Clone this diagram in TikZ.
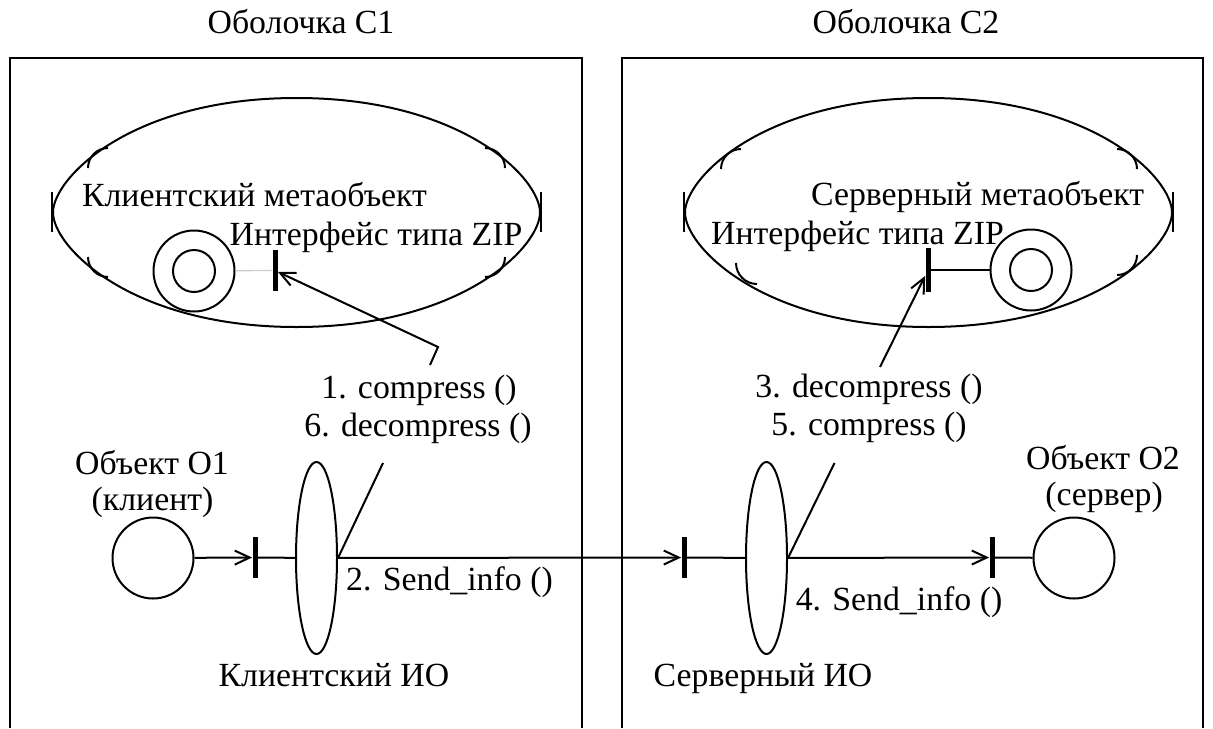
\documentclass[tikz,border=0pt]{standalone}
\usepackage{fontspec}
\setmainfont{Liberation Serif}
\usetikzlibrary{shapes.geometric,arrows.meta}
\begin{document}
\begin{tikzpicture}[x=0.5pt,y=-0.5pt,
  every node/.style={font=\fontsize{16.9}{19}\selectfont},
  lbl/.style={anchor=base, inner sep=0},
  ln/.style={line width=1pt},
  bar/.style={rectangle, fill=black, draw=none, minimum width=2.5pt, minimum height=20.5pt, inner sep=0},
  obj/.style={circle, draw, line width=1pt, minimum size=40.5pt, inner sep=0},
  io/.style={ellipse, draw, line width=1pt, minimum width=20.5pt, minimum height=96pt, inner sep=0},
  msg/.style={-{Straight Barb[length=7.5pt,width=7pt]}, line width=1pt},
  metapic/.pic={\draw[line width=1pt] (-243.5,0) .. controls (-243.5,-34.35) and (-165.6,-114.5) .. (0,-114.5)
      .. controls (165.6,-114.5) and (243.5,-34.35) .. (243.5,0)
      .. controls (243.5,34.35) and (165.6,114.5) .. (0,114.5)
      .. controls (-165.6,114.5) and (-243.5,34.35) .. cycle;},
]
\useasboundingbox (0,0) rectangle (1213,728);

% titles
\node[lbl] (t1) at (301,33) {Оболочка С1};
\node[lbl] (t2) at (906,33) {Оболочка С2};

% shells
\draw[ln] (10,728) -- (10,58) -- (582,58) -- (582,728);
\draw[ln] (622,728) -- (622,58) -- (1203,58) -- (1203,728);

% metaobjects
\pic at (296.5,212.5) {metapic};
\pic at (928.5,212.5) {metapic};
% cloud ticks, left metaobject
\draw[ln] (108,148) arc[start angle=270, end angle=180, radius=20];
\draw[ln] (88,257) arc[start angle=180, end angle=90, radius=20];
\draw[ln] (485,148) arc[start angle=270, end angle=360, radius=20];
\draw[ln] (505,257) arc[start angle=0, end angle=90, radius=20];
\draw[ln] (52,192) -- (52,232);
\draw[ln] (541,192) -- (541,232);
% cloud ticks, right metaobject
\draw[ln] (741,149) arc[start angle=270, end angle=180, radius=20];
\draw[ln] (736,263) arc[start angle=180, end angle=90, radius=21];
\draw[ln] (1117,149) arc[start angle=270, end angle=360, radius=20];
\draw[ln] (1137,255) arc[start angle=0, end angle=90, radius=20];
\draw[ln] (684,192) -- (684,232);
\draw[ln] (1173,192) -- (1173,232);

\node[lbl] (lmt) at (254.5,206) {Клиентский метаобъект};
\node[lbl] (lit) at (376,245) {Интерфейс типа ZIP};
\node[lbl] (rmt) at (977.5,205) {Серверный метаобъект};
\node[lbl] (rit) at (857.5,244) {Интерфейс типа ZIP};

% left interface
\node[obj] (li) at (194,271) {};
\node[circle, draw, line width=1pt, minimum size=21pt, inner sep=0] (lii) at (194,271) {};
\node[bar] (lbar) at (275,270.5) {};
\draw[gray!40, line width=0.6pt] (li) -- (lbar);
% right interface
\node[obj] (ri) at (1031,270) {};
\node[circle, draw, line width=1pt, minimum size=21pt, inner sep=0] (rii) at (1031,270) {};
\node[bar, minimum height=22pt] (rbar) at (928,270) {};
\draw[ln] (rbar) -- (ri);

% message arrows to interfaces
\coordinate (c1a) at (430,365);
\coordinate (c1b) at (438,347);
\draw[msg] (c1a) -- (c1b) -- (lbar);
\coordinate (c3a) at (880,367);
\draw[msg] (c3a) -- (rbar);

\node[lbl] (m1) at (419,398) {1. compress ()};
\node[lbl] (m6) at (418,436) {6. decompress ()};
\node[lbl] (m3) at (869,397) {3. decompress ()};
\node[lbl] (m5) at (869,435) {5. compress ()};

% objects
\node[obj] (o1) at (153,558) {};
\node[lbl] (o1a) at (152,474) {Объект O1};
\node[lbl] (o1b) at (152.5,510) {(клиент)};
\node[obj] (o2) at (1074,558) {};
\node[lbl] (o2a) at (1103,469) {Объект O2};
\node[lbl] (o2b) at (1104,505) {(сервер)};

\node[bar] (b1) at (255,557.5) {};
\node[io] (cio) at (316.5,558) {};
\node[bar] (sb1) at (684,557.5) {};
\node[io] (sio) at (766.5,558) {};
\node[bar] (sb2) at (992,557.5) {};

\draw[msg] (o1) -- (b1);
\draw[ln] (b1) -- (cio);
\draw[msg] (cio) -- (sb1);
\draw[ln] (sb1) -- (sio);
\draw[msg] (sio) -- (sb2);
\draw[ln] (sb2) -- (o2);

\coordinate (d1) at (383,463);
\draw[ln] (cio.east) -- (d1);
\coordinate (d2) at (834.5,463);
\draw[ln] (sio.east) -- (d2);

\node[lbl] (s2) at (449.5,590) {2. Send\_info ()};
\node[lbl] (s4) at (899,610) {4. Send\_info ()};
\node[lbl] (cion) at (334,686) {Клиентский ИО};
\node[lbl] (sion) at (763,686) {Серверный ИО};
\end{tikzpicture}
\end{document}
